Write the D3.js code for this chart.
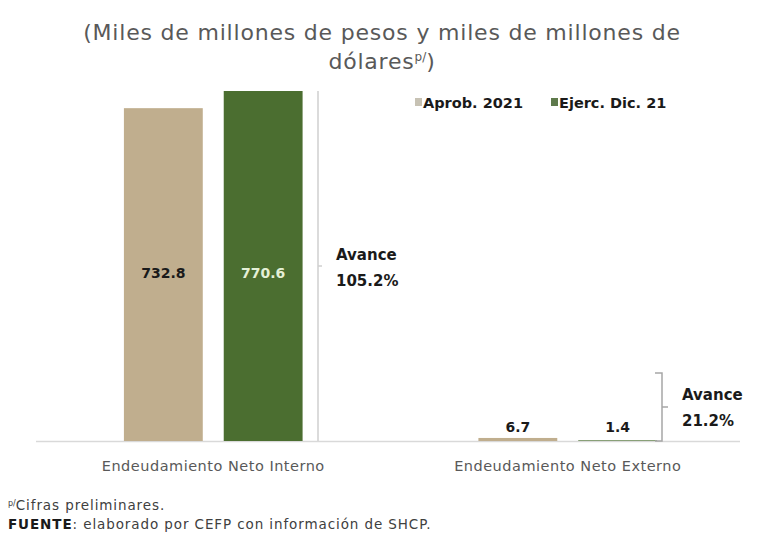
<!DOCTYPE html>
<html><head><meta charset="utf-8">
<script src="https://cdn.jsdelivr.net/npm/d3@7"></script>
<style>body{margin:0;background:#fff}svg{display:block}</style>
</head><body>
<svg id="c" width="765" height="536"></svg>
<script>
const categories = ["Endeudamiento Neto Interno", "Endeudamiento Neto Externo"];
const seriesNames = ["Aprob. 2021", "Ejerc. Dic. 21"];
const aprob = [732.8, 6.7];
const ejerc = [770.6, 1.4];
const avance = ["105.2%", "21.2%"];
const titleLines = ["(Miles de millones de pesos y miles de millones de", "dólares"];
const colors = ["#c0ae8e", "#4b6e30"];
const legendColors = ["#c7c2b4", "#5e7a4c"];
const labelColors = ["#1a1a1a", "#e4f0d6"];

(function(){
const svg = d3.select("#c");
const font = "'DejaVu Sans', sans-serif";
const base = 441, plotTop = 91;

const x = d3.scaleBand().domain(categories).range([36, 745]);
const xs = d3.scaleBand().domain(seriesNames)
  .range([x.bandwidth()*0.248, x.bandwidth()*0.752]).paddingInner(0.21);
const y = d3.scaleLinear().domain([0, d3.max(ejerc.concat(aprob))]).range([base, plotTop]);

// title
svg.append("text").attr("x", 382).attr("y", 40).attr("text-anchor", "middle")
  .attr("font-family", font).attr("font-size", 22).attr("letter-spacing", 0.8).attr("fill", "#595959")
  .text(titleLines[0]);
const t2 = svg.append("text").attr("x", 382).attr("y", 69).attr("text-anchor", "middle")
  .attr("font-family", font).attr("font-size", 22).attr("letter-spacing", 0.8).attr("fill", "#595959");
t2.append("tspan").text(titleLines[1]);
t2.append("tspan").attr("font-size", 12).attr("dy", -8).attr("letter-spacing", 0).text("p/");
t2.append("tspan").attr("dy", 8).text(")");

// baseline
svg.append("line").attr("x1", 36).attr("x2", 740).attr("y1", base + 0.5).attr("y2", base + 0.5)
  .attr("stroke", "#d9d9d9").attr("stroke-width", 1.5);

const data = categories.map((c, i) => ({cat: c, vals: [aprob[i], ejerc[i]]}));

const g = svg.append("g");
data.forEach((d, ci) => {
  d.vals.forEach((v, si) => {
    const bx = x(d.cat) + xs(seriesNames[si]);
    g.append("rect").attr("x", bx).attr("width", xs.bandwidth())
      .attr("y", y(v)).attr("height", Math.max(base - y(v), 0))
      .attr("fill", colors[si]);
    const inside = (base - y(v)) > 40;
    g.append("text").attr("x", bx + xs.bandwidth()/2)
      .attr("y", inside ? y(370) + 5 : base - 9)
      .attr("text-anchor", "middle").attr("font-family", font).attr("font-weight", "bold")
      .attr("font-size", 14).attr("fill", inside ? labelColors[si] : "#1a1a1a")
      .text(v.toFixed(1));
  });
  svg.append("text").attr("x", x(d.cat) + x.bandwidth()/2).attr("y", 471)
    .attr("text-anchor", "middle").attr("font-family", font).attr("font-size", 14.5)
    .attr("letter-spacing", 0.5).attr("fill", "#595959").text(d.cat);
});

// brackets
function bracket(bx, yTop, col, hooks) {
  const mid = (yTop + base) / 2;
  const d = hooks
    ? `M${bx-7},${yTop}H${bx}V${base}H${bx-7}M${bx},${mid}H${bx+6}`
    : `M${bx},${yTop}V${base}M${bx},${mid}H${bx+4}`;
  svg.append("path").attr("d", d)
    .attr("fill", "none").attr("stroke", col).attr("stroke-width", 1.5);
}
bracket(318, y(ejerc[0]), "#d0d0d0", false);
bracket(662, 373, "#a6a6a6", true);

// avance labels
const av = [{x: 336, y: 260}, {x: 682, y: 400}];
avance.forEach((a, i) => {
  const t = svg.append("text").attr("font-family", font).attr("font-weight", "bold")
    .attr("font-size", 15).attr("fill", "#1a1a1a");
  t.append("tspan").attr("x", av[i].x).attr("y", av[i].y).text("Avance");
  t.append("tspan").attr("x", av[i].x).attr("y", av[i].y + 26).text(a);
});

// legend
const lg = [{x: 415}, {x: 551}];
seriesNames.forEach((s, i) => {
  svg.append("rect").attr("x", lg[i].x).attr("y", 98).attr("width", 7).attr("height", 8)
    .attr("fill", legendColors[i]);
  svg.append("text").attr("x", lg[i].x + 8).attr("y", 108).attr("font-family", font)
    .attr("font-weight", "bold").attr("font-size", 14.5).attr("fill", "#1a1a1a").text(s);
});

// footer
const f1 = svg.append("text").attr("x", 8).attr("y", 510).attr("font-family", font)
  .attr("font-size", 13.5).attr("letter-spacing", 0.9).attr("fill", "#404040");
f1.append("tspan").attr("font-size", 8).attr("dy", -4).attr("letter-spacing", 0).text("p/");
f1.append("tspan").attr("dy", 4).text("Cifras preliminares.");
const f2 = svg.append("text").attr("x", 8).attr("y", 529).attr("font-family", font)
  .attr("font-size", 13.5).attr("letter-spacing", 0.9).attr("fill", "#404040");
f2.append("tspan").attr("font-weight", "bold").attr("fill", "#1a1a1a").text("FUENTE");
f2.append("tspan").text(": elaborado por CEFP con información de SHCP.");
})();
</script>
</body></html>
